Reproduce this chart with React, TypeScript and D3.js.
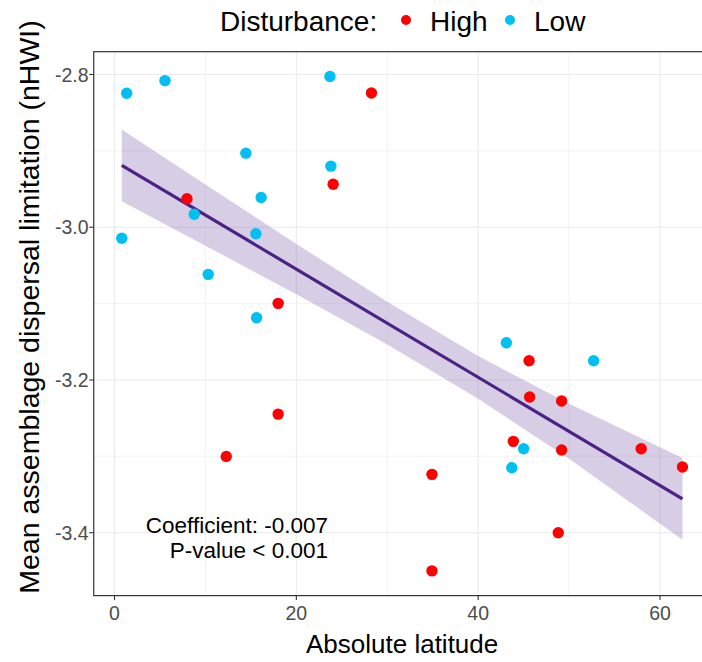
import React from "react";
import * as d3 from "d3";

// ---- data ----
const highLat = [28.26, 24.05, 7.97, 18.0, 18.0, 12.29, 45.6, 45.66, 49.18, 43.87, 49.18, 57.93, 62.47, 34.92, 48.81, 34.92];
const highHWI = [-2.8242, -2.9438, -2.9627, -3.0997, -3.2447, -3.3001, -3.1748, -3.2224, -3.2276, -3.2804, -3.2918, -3.29, -3.314, -3.3236, -3.4, -3.45];

const lowLat = [1.34, 5.55, 23.7, 14.45, 23.8, 16.13, 8.77, 0.8, 15.55, 10.31, 15.63, 43.1, 52.7, 45.0, 43.7];
const lowHWI = [-2.8246, -2.808, -2.8025, -2.903, -2.92, -2.961, -2.983, -3.0145, -3.0085, -3.0617, -3.1185, -3.1513, -3.1748, -3.29, -3.315];

// fitted line and its confidence band
const fitLat = [0.8, 62.47];
const fitHWI = [-2.919, -3.3556];
const bandLat = [0.8, 10, 20, 30, 40, 50, 62.47];
const bandUpper = [-2.872, -2.9441, -3.0219, -3.0977, -3.1685, -3.2313, -3.3021];
const bandLower = [-2.966, -3.0241, -3.0879, -3.1537, -3.2245, -3.3033, -3.4091];

const xTicks = [0, 20, 40, 60];
const xMinor = [10, 30, 50];
const yTicks = [-2.8, -3.0, -3.2, -3.4];
const yMinor = [-2.9, -3.1, -3.3];
const legendTitle = "Disturbance:";
const groups = ["High", "Low"];
const groupColors = ["#FF0000", "#00BFF3"];
const annotation = ["Coefficient: -0.007", "P-value < 0.001"];
const xTitle = "Absolute latitude";
const yTitle = "Mean assemblage dispersal limitation (nHWI)";

const FONT = "'Liberation Sans', Arial, Helvetica, sans-serif";

export default function App() {
  const W = 702;
  const H = 662;

  const x = d3.scaleLinear().domain([0, 60]).range([114.5, 660]);
  const y = d3.scaleLinear().domain([-2.8, -3.4]).range([74.5, 532.7]);

  const allLat = [...highLat, ...lowLat];
  const allHWI = [...highHWI, ...lowHWI];
  const [xmin, xmax] = d3.extent(allLat) as [number, number];
  const [ymin, ymax] = d3.extent(allHWI) as [number, number];
  const xp = 0.05 * (xmax - xmin);
  const yp = 0.05 * (ymax - ymin);
  const left = x(xmin - xp);
  const right = x(xmax + xp);
  const top = y(ymax + yp);
  const bottom = y(ymin - yp);

  const band = d3
    .area<number>()
    .x((_, i) => x(bandLat[i]))
    .y0((_, i) => y(bandLower[i]))
    .y1((_, i) => y(bandUpper[i]));
  const line = d3
    .line<number>()
    .x((_, i) => x(fitLat[i]))
    .y((_, i) => y(fitHWI[i]));

  const tickColor = "#4D4D4D";
  const ptR = 5.7;

  return (
    <svg
      width={W}
      height={H}
      style={{ position: "absolute", left: 0, top: 0, background: "#fff", overflow: "hidden" }}
      fontFamily={FONT}
    >
      <rect x={0} y={0} width={W} height={H} fill="#fff" />
      <defs>
        <clipPath id="panel">
          <rect x={left} y={top} width={right - left} height={bottom - top} />
        </clipPath>
      </defs>

      {/* grid */}
      <g>
        {xMinor.map((v) => (
          <line key={"xm" + v} x1={x(v)} x2={x(v)} y1={top} y2={bottom} stroke="#EBEBEB" strokeWidth={0.6} />
        ))}
        {yMinor.map((v) => (
          <line key={"ym" + v} x1={left} x2={right} y1={y(v)} y2={y(v)} stroke="#EBEBEB" strokeWidth={0.6} />
        ))}
        {xTicks.map((v) => (
          <line key={"xg" + v} x1={x(v)} x2={x(v)} y1={top} y2={bottom} stroke="#EBEBEB" strokeWidth={1.1} />
        ))}
        {yTicks.map((v) => (
          <line key={"yg" + v} x1={left} x2={right} y1={y(v)} y2={y(v)} stroke="#EBEBEB" strokeWidth={1.1} />
        ))}
      </g>

      {/* regression band and line */}
      <g clipPath="url(#panel)">
        <path d={band(bandLat) || ""} fill="#7B5CA8" fillOpacity={0.3} />
        <path d={line(fitLat) || ""} fill="none" stroke="#4B2387" strokeWidth={3.2} />
      </g>

      {/* points */}
      <g>
        {highLat.map((v, i) => (
          <circle key={"h" + i} cx={x(v)} cy={y(highHWI[i])} r={ptR} fill={groupColors[0]} />
        ))}
        {lowLat.map((v, i) => (
          <circle key={"l" + i} cx={x(v)} cy={y(lowHWI[i])} r={ptR} fill={groupColors[1]} />
        ))}
      </g>

      {/* annotation */}
      <g fontSize={22.5} fill="#000" textAnchor="end">
        <text x={328} y={533}>{annotation[0]}</text>
        <text x={328} y={558}>{annotation[1]}</text>
      </g>

      {/* panel border */}
      <rect x={left} y={top} width={right - left} height={bottom - top} fill="none" stroke="#333333" strokeWidth={1.2} />

      {/* x axis */}
      <g>
        {xTicks.map((v) => (
          <g key={"xt" + v}>
            <line x1={x(v)} x2={x(v)} y1={bottom} y2={bottom + 4.5} stroke="#333333" strokeWidth={1.1} />
            <text x={x(v)} y={620} textAnchor="middle" fontSize={19.5} fill={tickColor}>
              {v}
            </text>
          </g>
        ))}
        <text x={(left + right) / 2} y={653} textAnchor="middle" fontSize={26} fill="#000">
          {xTitle}
        </text>
      </g>

      {/* y axis */}
      <g>
        {yTicks.map((v) => (
          <g key={"yt" + v}>
            <line x1={left - 4.5} x2={left} y1={y(v)} y2={y(v)} stroke="#333333" strokeWidth={1.1} />
            <text x={88.5} y={y(v)} dy="0.36em" textAnchor="end" fontSize={19.5} fill={tickColor}>
              {d3.format(".1f")(v).replace("−", "-")}
            </text>
          </g>
        ))}
        <text
          transform={`translate(38.5, 307) rotate(-90)`}
          textAnchor="middle"
          fontSize={28.5}
          fill="#000"
        >
          {yTitle}
        </text>
      </g>

      {/* legend */}
      <g fontSize={28} fill="#000">
        <text x={220} y={31}>{legendTitle}</text>
        <circle cx={406} cy={20} r={5} fill={groupColors[0]} />
        <text x={430} y={31}>{groups[0]}</text>
        <circle cx={510} cy={20} r={5} fill={groupColors[1]} />
        <text x={534} y={31}>{groups[1]}</text>
      </g>
    </svg>
  );
}
